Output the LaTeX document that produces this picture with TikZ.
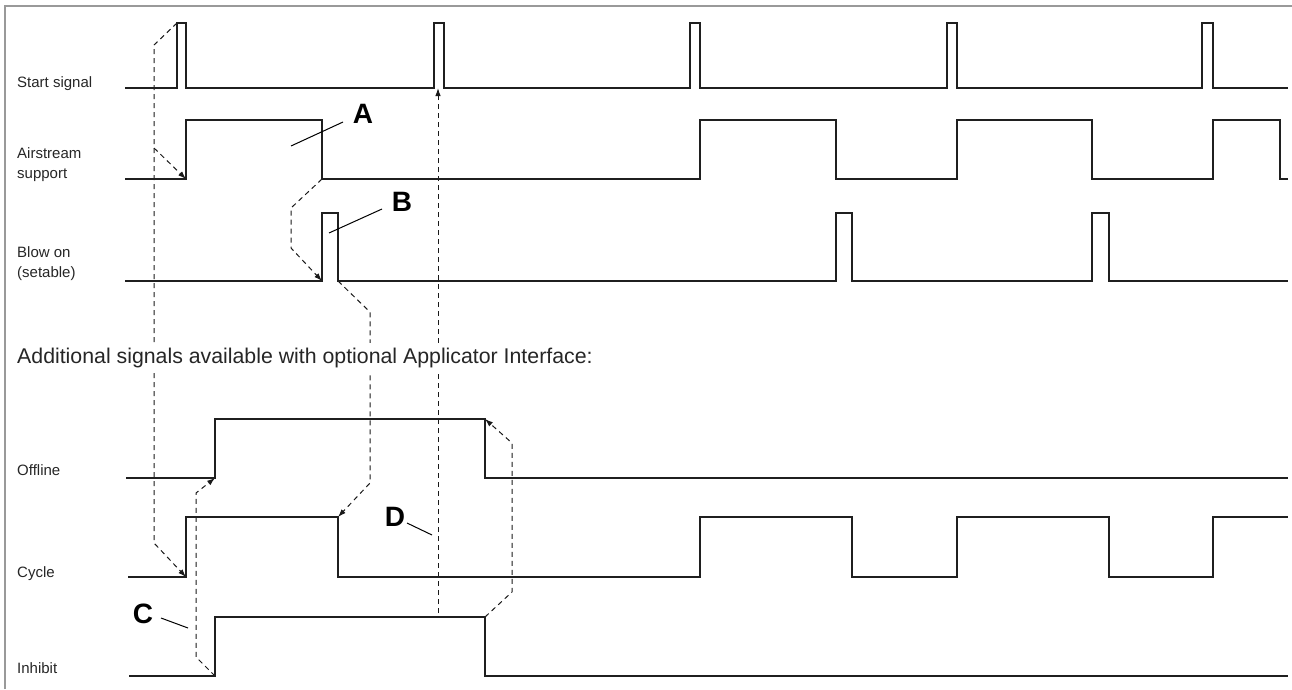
\documentclass[tikz,border=0pt]{standalone}
\usepackage{fontspec}
\setmainfont{Liberation Sans}
\usetikzlibrary{arrows.meta}
\begin{document}
\begin{tikzpicture}[x=1pt,y=-1pt,
  sig/.style={line width=1.3pt, draw=black!88, line join=miter},
  dep/.style={draw=black!90, line width=1pt, dash pattern=on 5pt off 4pt},
  deparrow/.style={dep, -{Latex[length=8pt,width=5.5pt]}},
  lbl/.style={anchor=base west, inner sep=0pt, font=\fontsize{15}{20}\selectfont, text=black!85},
  letter/.style={inner sep=0pt, font=\fontsize{28}{32}\selectfont\bfseries},
  leader/.style={line width=1pt, draw=black}]
\useasboundingbox (0,0) rectangle (1292,689);
\draw[black!40, line width=2pt] (5,689) -- (5,6) -- (1292,6);

% key coordinates
\coordinate (s1top) at (177,23);
\coordinate (s2base) at (438,88);
\coordinate (asrise) at (186,179);
\coordinate (asfall) at (322,179);
\coordinate (borise) at (322,281);
\coordinate (bofall) at (338,281);
\coordinate (ofrise) at (215,478);
\coordinate (offall) at (485,419);
\coordinate (cyrise) at (186,577);
\coordinate (cyfall) at (338,517);
\coordinate (inrise) at (215,676);
\coordinate (infall) at (485,617);
\coordinate (dend) at (438,613);

% dependency connectors
\draw[deparrow] (s1top) -- (154,45) -- (154,543) -- (cyrise);
\draw[deparrow] (154,148) -- (asrise);
\draw[deparrow] (asfall) -- (291,208) -- (291,248) -- (borise);
\draw[deparrow] (bofall) -- (370,312) -- (370,483) -- (cyfall);
\draw[deparrow] (dend) -- (s2base);
\draw[deparrow] (inrise) -- (196,657) -- (196,493) -- (ofrise);
\draw[deparrow] (infall) -- (512,592) -- (512,443) -- (offall);

% signals
\draw[sig] (125,88) -- (177,88) -- (s1top) -- (186,23) -- (186,88)
  -- (434,88) -- (434,23) -- (444,23) -- (444,88)
  -- (690,88) -- (690,23) -- (700,23) -- (700,88)
  -- (947,88) -- (947,23) -- (957,23) -- (957,88)
  -- (1202,88) -- (1202,23) -- (1213,23) -- (1213,88) -- (1288,88);
\draw[sig] (125,179) -- (asrise) -- (186,120) -- (322,120) -- (asfall)
  -- (700,179) -- (700,120) -- (836,120) -- (836,179)
  -- (957,179) -- (957,120) -- (1092,120) -- (1092,179)
  -- (1213,179) -- (1213,120) -- (1280,120) -- (1280,179) -- (1288,179);
\draw[sig] (125,281) -- (borise) -- (322,213) -- (338,213) -- (bofall)
  -- (836,281) -- (836,213) -- (852,213) -- (852,281)
  -- (1092,281) -- (1092,213) -- (1109,213) -- (1109,281) -- (1288,281);
\draw[sig] (126,478) -- (ofrise) -- (215,419) -- (offall) -- (485,478) -- (1288,478);
\draw[sig] (128,577) -- (cyrise) -- (186,517) -- (cyfall) -- (338,577)
  -- (700,577) -- (700,517) -- (852,517) -- (852,577)
  -- (957,577) -- (957,517) -- (1109,517) -- (1109,577)
  -- (1213,577) -- (1213,517) -- (1288,517);
\draw[sig] (129,676) -- (inrise) -- (215,617) -- (infall) -- (485,676) -- (1288,676);

% labels
\node[lbl] (lstart) at (17,87) {Start signal};
\node[lbl] (lair) at (17,158) {\begin{tabular}[t]{@{}l@{}}Airstream\\support\end{tabular}};
\node[lbl] (lblow) at (17,257) {\begin{tabular}[t]{@{}l@{}}Blow on\\(setable)\end{tabular}};
\node[lbl, font=\fontsize{21.3}{25}\selectfont, fill=white, inner xsep=0pt, inner ysep=5pt] (ladd) at (17,363) {Additional signals available with optional Applicator Interface:};
\node[lbl] (loff) at (17,475) {Offline};
\node[lbl] (lcyc) at (17,577) {Cycle};
\node[lbl] (linh) at (17,673) {Inhibit};

% letters with leaders
\node[letter] (A) at (363,114) {A};
\node[letter] (B) at (402,202) {B};
\node[letter] (C) at (143,614) {C};
\node[letter] (D) at (395,517) {D};
\coordinate (Aend) at (291,146);
\coordinate (Bend) at (329,233);
\coordinate (Cend) at (188,628);
\coordinate (Dend) at (432,535);
\draw[leader] (343,122) -- (Aend);
\draw[leader] (382,209) -- (Bend);
\draw[leader] (161,618) -- (Cend);
\draw[leader] (407,523) -- (Dend);
\end{tikzpicture}
\end{document}
